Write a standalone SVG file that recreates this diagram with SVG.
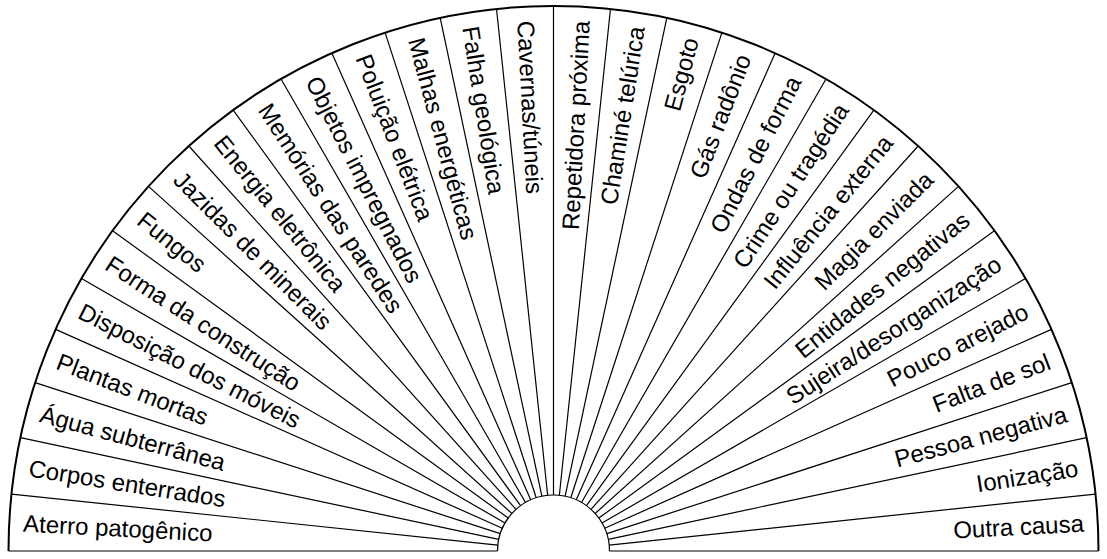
<svg xmlns="http://www.w3.org/2000/svg" width="1107" height="559" viewBox="0 0 1107 559">
<style>
.ln{stroke:#000;stroke-width:1.2;fill:none}
.arc{stroke:#000;stroke-width:2;fill:none}
.lbl{font-family:"Liberation Sans",Arial,sans-serif;font-size:24px;fill:#000}
.l{text-anchor:start}
.r{text-anchor:end}
</style>
<rect width="1107" height="559" fill="#fff"/>
<g transform="translate(553.5 551)">
<g id="frame">
<path class="arc" d="M -545 0 A 545 545 0 0 1 545 0"/>
<path class="ln" d="M -56 0 A 56 56 0 0 1 56 0"/>
<g id="connectors" class="ln">
<line x1="56" y1="0" x2="545" y2="0"/>
<line x1="56" y1="0" x2="545" y2="0" transform="rotate(-6)"/>
<line x1="56" y1="0" x2="545" y2="0" transform="rotate(-12)"/>
<line x1="56" y1="0" x2="545" y2="0" transform="rotate(-18)"/>
<line x1="56" y1="0" x2="545" y2="0" transform="rotate(-24)"/>
<line x1="56" y1="0" x2="545" y2="0" transform="rotate(-30)"/>
<line x1="56" y1="0" x2="545" y2="0" transform="rotate(-36)"/>
<line x1="56" y1="0" x2="545" y2="0" transform="rotate(-42)"/>
<line x1="56" y1="0" x2="545" y2="0" transform="rotate(-48)"/>
<line x1="56" y1="0" x2="545" y2="0" transform="rotate(-54)"/>
<line x1="56" y1="0" x2="545" y2="0" transform="rotate(-60)"/>
<line x1="56" y1="0" x2="545" y2="0" transform="rotate(-66)"/>
<line x1="56" y1="0" x2="545" y2="0" transform="rotate(-72)"/>
<line x1="56" y1="0" x2="545" y2="0" transform="rotate(-78)"/>
<line x1="56" y1="0" x2="545" y2="0" transform="rotate(-84)"/>
<line x1="56" y1="0" x2="545" y2="0" transform="rotate(-90)"/>
<line x1="56" y1="0" x2="545" y2="0" transform="rotate(-96)"/>
<line x1="56" y1="0" x2="545" y2="0" transform="rotate(-102)"/>
<line x1="56" y1="0" x2="545" y2="0" transform="rotate(-108)"/>
<line x1="56" y1="0" x2="545" y2="0" transform="rotate(-114)"/>
<line x1="56" y1="0" x2="545" y2="0" transform="rotate(-120)"/>
<line x1="56" y1="0" x2="545" y2="0" transform="rotate(-126)"/>
<line x1="56" y1="0" x2="545" y2="0" transform="rotate(-132)"/>
<line x1="56" y1="0" x2="545" y2="0" transform="rotate(-138)"/>
<line x1="56" y1="0" x2="545" y2="0" transform="rotate(-144)"/>
<line x1="56" y1="0" x2="545" y2="0" transform="rotate(-150)"/>
<line x1="56" y1="0" x2="545" y2="0" transform="rotate(-156)"/>
<line x1="56" y1="0" x2="545" y2="0" transform="rotate(-162)"/>
<line x1="56" y1="0" x2="545" y2="0" transform="rotate(-168)"/>
<line x1="56" y1="0" x2="545" y2="0" transform="rotate(-174)"/>
<line x1="56" y1="0" x2="545" y2="0" transform="rotate(-180)"/>
</g>
</g>
<g id="s01"><text class="lbl l" x="-531" y="0" dy="0.35em" transform="rotate(3)">Aterro patogênico</text></g>
<g id="s02"><text class="lbl l" x="-531" y="0" dy="0.35em" transform="rotate(9)">Corpos enterrados</text></g>
<g id="s03"><text class="lbl l" x="-531" y="0" dy="0.35em" transform="rotate(15)">Água subterrânea</text></g>
<g id="s04"><text class="lbl l" x="-531" y="0" dy="0.35em" transform="rotate(21)">Plantas mortas</text></g>
<g id="s05"><text class="lbl l" x="-531" y="0" dy="0.35em" transform="rotate(27)">Disposição dos móveis</text></g>
<g id="s06"><text class="lbl l" x="-531" y="0" dy="0.35em" transform="rotate(33)">Forma da construção</text></g>
<g id="s07"><text class="lbl l" x="-531" y="0" dy="0.35em" transform="rotate(39)">Fungos</text></g>
<g id="s08"><text class="lbl l" x="-531" y="0" dy="0.35em" transform="rotate(45)">Jazidas de minerais</text></g>
<g id="s09"><text class="lbl l" x="-531" y="0" dy="0.35em" transform="rotate(51)">Energia eletrônica</text></g>
<g id="s10"><text class="lbl l" x="-531" y="0" dy="0.35em" transform="rotate(57)">Memórias das paredes</text></g>
<g id="s11"><text class="lbl l" x="-531" y="0" dy="0.35em" transform="rotate(63)">Objetos impregnados</text></g>
<g id="s12"><text class="lbl l" x="-531" y="0" dy="0.35em" transform="rotate(69)">Poluição elétrica</text></g>
<g id="s13"><text class="lbl l" x="-531" y="0" dy="0.35em" transform="rotate(75)">Malhas energéticas</text></g>
<g id="s14"><text class="lbl l" x="-531" y="0" dy="0.35em" transform="rotate(81)">Falha geológica</text></g>
<g id="s15"><text class="lbl l" x="-531" y="0" dy="0.35em" transform="rotate(87)">Cavernas/túneis</text></g>
<g id="s16"><text class="lbl r" x="531" y="0" dy="0.35em" transform="rotate(-87)">Repetidora próxima</text></g>
<g id="s17"><text class="lbl r" x="531" y="0" dy="0.35em" transform="rotate(-81)">Chaminé telúrica</text></g>
<g id="s18"><text class="lbl r" x="531" y="0" dy="0.35em" transform="rotate(-75)">Esgoto</text></g>
<g id="s19"><text class="lbl r" x="531" y="0" dy="0.35em" transform="rotate(-69)">Gás radônio</text></g>
<g id="s20"><text class="lbl r" x="531" y="0" dy="0.35em" transform="rotate(-63)">Ondas de forma</text></g>
<g id="s21"><text class="lbl r" x="531" y="0" dy="0.35em" transform="rotate(-57)">Crime ou tragédia</text></g>
<g id="s22"><text class="lbl r" x="531" y="0" dy="0.35em" transform="rotate(-51)">Influência externa</text></g>
<g id="s23"><text class="lbl r" x="531" y="0" dy="0.35em" transform="rotate(-45)">Magia enviada</text></g>
<g id="s24"><text class="lbl r" x="531" y="0" dy="0.35em" transform="rotate(-39)">Entidades negativas</text></g>
<g id="s25"><text class="lbl r" x="531" y="0" dy="0.35em" transform="rotate(-33)">Sujeira/desorganização</text></g>
<g id="s26"><text class="lbl r" x="531" y="0" dy="0.35em" transform="rotate(-27)">Pouco arejado</text></g>
<g id="s27"><text class="lbl r" x="531" y="0" dy="0.35em" transform="rotate(-21)">Falta de sol</text></g>
<g id="s28"><text class="lbl r" x="531" y="0" dy="0.35em" transform="rotate(-15)">Pessoa negativa</text></g>
<g id="s29"><text class="lbl r" x="531" y="0" dy="0.35em" transform="rotate(-9)">Ionização</text></g>
<g id="s30"><text class="lbl r" x="531" y="0" dy="0.35em" transform="rotate(-3)">Outra causa</text></g>
</g>
</svg>
